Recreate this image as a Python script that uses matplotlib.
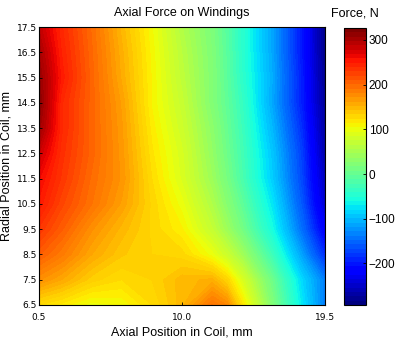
import numpy as np
import matplotlib
matplotlib.use("Agg")
import matplotlib.pyplot as plt
import matplotlib as mpl

# grid positions (mm)
axial_pos = [0.5, 2.0, 4.0, 6.0, 8.0, 10.0, 12.0, 13.0, 14.0, 16.0, 18.0, 19.5]
radial_pos = [6.5, 7.5, 8.5, 9.5, 10.5, 11.5, 12.5, 13.5, 14.5, 15.5, 16.5, 17.5]

# axial force (N), one row per radial position, bottom to top
force = [
    [125, 115, 100, 105, 125, 150, 195, 180, 120, 20, -75, -140],
    [175, 160, 135, 125, 132, 150, 155, 130, 88, 5, -85, -140],
    [210, 190, 160, 140, 132, 128, 100, 75, 45, -30, -120, -190],
    [235, 210, 175, 150, 130, 112, 70, 42, 10, -60, -150, -225],
    [255, 225, 195, 165, 130, 100, 55, 25, -5, -75, -165, -250],
    [265, 235, 200, 172, 125, 88, 42, 12, -20, -90, -175, -260],
    [285, 240, 205, 170, 120, 85, 35, 5, -25, -95, -180, -270],
    [310, 245, 205, 168, 115, 78, 30, 0, -30, -105, -190, -275],
    [322, 245, 205, 165, 110, 72, 22, -5, -35, -115, -200, -280],
    [315, 255, 205, 158, 110, 66, 22, -8, -42, -112, -200, -285],
    [305, 250, 203, 155, 108, 62, 20, -10, -45, -115, -205, -288],
    [290, 245, 200, 150, 105, 56, 17, -12, -45, -115, -205, -290],
]

f_min, f_max = -293, 327
cbar_ticks = [-200, -100, 0, 100, 200, 300]
x_ticks = [0.5, 10.0, 19.5]
y_ticks = [6.5, 7.5, 8.5, 9.5, 10.5, 11.5, 12.5, 13.5, 14.5, 15.5, 16.5, 17.5]

plt.rcParams["font.family"] = ["Liberation Sans", "DejaVu Sans"]

fig = plt.figure(figsize=(4.0, 3.44), dpi=100)
ax = fig.add_axes([0.0975, 0.1134, 0.715, 0.808])
cax = fig.add_axes([0.86, 0.1134, 0.055, 0.8055])

X, Y = np.meshgrid(axial_pos, radial_pos)
levels = np.linspace(f_min, f_max, 90)
ax.contourf(X, Y, np.array(force), levels=levels, cmap="jet",
            vmin=f_min, vmax=f_max)

ax.set_xlim(0.5, 19.5)
ax.set_ylim(6.5, 17.5)
ax.set_xticks(x_ticks)
ax.set_xticklabels(["{:.1f}".format(v) for v in x_ticks], family="DejaVu Sans")
ax.set_yticks(y_ticks)
ax.set_yticklabels(["{:.1f}".format(v) for v in y_ticks], family="DejaVu Sans")
ax.tick_params(axis="both", direction="in", length=2, labelsize=6.5, width=0.6)
ax.tick_params(axis="x", pad=6)
ax.tick_params(axis="y", pad=1.5)
for s in ax.spines.values():
    s.set_linewidth(0.8)

ax.set_title("Axial Force on Windings", fontsize=9, pad=8)
ax.set_xlabel("Axial Position in Coil, mm", fontsize=9, labelpad=3)
ax.set_ylabel("Radial Position in Coil, mm", fontsize=9, labelpad=3)

sm = mpl.cm.ScalarMappable(norm=mpl.colors.Normalize(f_min, f_max),
                           cmap=plt.get_cmap("jet", 64))
cb = fig.colorbar(sm, cax=cax, ticks=cbar_ticks)
cb.outline.set_linewidth(0.8)
cax.tick_params(direction="in", length=2.5, labelsize=8.5, pad=2, width=0.6)
cax.set_title("Force, N", fontsize=9, pad=8)

fig.savefig("out.png", dpi=100)
